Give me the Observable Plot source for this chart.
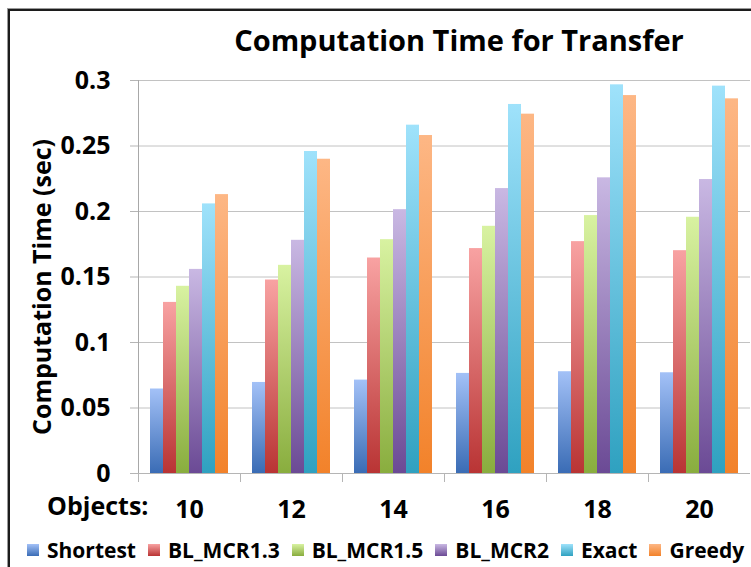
<!DOCTYPE html>
<html>
<head>
<meta charset="utf-8">
<script src="https://cdn.jsdelivr.net/npm/d3@7"></script>
<script src="https://cdn.jsdelivr.net/npm/@observablehq/plot@0.6"></script>
<style>
  html, body { margin: 0; padding: 0; background: #fff; }
  #chart { position: relative; width: 751px; height: 567px; overflow: hidden; font-family: "Open Sans", sans-serif; font-weight: bold; color: #000; }
  #border { position: absolute; left: 8px; top: 9px; width: 800px; height: 600px; border-left: 2px solid #1c1c1c; border-top: 2px solid #1c1c1c; box-shadow: -1px -1px 0 #9a9a9a; }
  #title { position: absolute; left: 0; width: 918px; top: 21px; text-align: center; font-size: 29px; line-height: 38px; }
  #ylabel { position: absolute; left: 41px; top: 287px; transform: translate(-50%, -50%) rotate(-90deg); font-size: 25px; line-height: 30px; white-space: nowrap; }
  #plot { position: absolute; left: 0; top: 0; }
  #legend { position: absolute; left: 27px; top: 535px; display: flex; align-items: center; font-size: 21px; line-height: 30px; white-space: nowrap; }
  #legend .item { display: flex; align-items: center; margin-right: 12px; }
  #legend .sw { width: 12px; height: 12px; margin-right: 8px; }
</style>
</head>
<body>
<div id="chart">
  <div id="border"></div>
  <div id="title">Computation Time for Transfer</div>
  <div id="plot"></div>
  <div id="ylabel">Computation Time (sec)</div>
  <div id="legend"></div>
</div>
<script>
// Number of objects per scenario (one group of bars each)
const objects = [10, 12, 14, 16, 18, 20];

// Methods compared, in drawing order
const series = ["Shortest", "BL_MCR1.3", "BL_MCR1.5", "BL_MCR2", "Exact", "Greedy"];

// Computation time in seconds, one value per object count
const shortest = [0.0645, 0.0695, 0.0713, 0.0764, 0.0777, 0.0769];
const blMcr13  = [0.1306, 0.1477, 0.1645, 0.1717, 0.1770, 0.1701];
const blMcr15  = [0.1429, 0.1589, 0.1785, 0.1887, 0.1969, 0.1956];
const blMcr2   = [0.1558, 0.1780, 0.2014, 0.2175, 0.2257, 0.2244];
const exact    = [0.2058, 0.2458, 0.2659, 0.2817, 0.2967, 0.2957];
const greedy   = [0.2129, 0.2399, 0.2580, 0.2743, 0.2885, 0.2860];

// Y axis tick values
const yTicks = [0, 0.05, 0.1, 0.15, 0.2, 0.25, 0.3];

// Gradient stops (top, bottom) for each method
const gradTop    = ["#a3c1f7", "#f8a2a2", "#d8f2a1", "#c9b8e3", "#9fe2fb", "#fdb785"];
const gradBottom = ["#3a6cb5", "#b93434", "#89ad3e", "#6b4a95", "#2fa1c0", "#f2822a"];

const valuesBySeries = [shortest, blMcr13, blMcr15, blMcr2, exact, greedy];
const rows = [];
series.forEach((s, si) => {
  objects.forEach((o, oi) => rows.push({objects: o, series: s, value: valuesBySeries[si][oi]}));
});

const gradIds = series.map((s, i) => `grad-${i}`);

const plotW = 751, plotH = 530, mTop = 80, mBottom = 57;
const frameH = plotH - mTop - mBottom;

const chart = Plot.plot({
  width: plotW,
  height: plotH,
  marginLeft: 136,
  marginRight: 0,
  marginTop: mTop,
  marginBottom: mBottom,
  style: {fontFamily: "'Open Sans', sans-serif", fontWeight: "bold", color: "#000", background: "transparent", overflow: "visible"},
  fx: {domain: objects, padding: 0, axis: null, label: null},
  x: {domain: series, paddingInner: 0, paddingOuter: 0.77, axis: null},
  y: {domain: [0, 0.3], axis: null},
  color: {domain: series, range: gradIds.map(id => `url(#${id})`)},
  marks: [
    Plot.gridY(yTicks, {stroke: "#c2c2c2", strokeOpacity: 1}),
    Plot.axisY(yTicks, {
      anchor: "left", tickSize: 8, tickPadding: 20, fontSize: 25,
      stroke: "#b5b5b5", fill: "#000", tickFormat: d => String(d), label: null
    }),
    // y axis line in the leftmost group
    Plot.frame({anchor: "left", facetAnchor: "left", stroke: "#a8a8a8", insetBottom: -8}),
    // short separators below the baseline between groups
    Plot.frame({anchor: "left", stroke: "#b5b5b5", insetTop: frameH, insetBottom: -8}),
    Plot.ruleY([0], {stroke: "#b5b5b5"}),
    Plot.barY(rows, {fx: "objects", x: "series", y: "value", fill: "series", inset: 0}),
    Plot.axisFx({anchor: "bottom", tickSize: 0, tickPadding: 27, fontSize: 25, label: null}),
    Plot.text(["Objects:"], {
      frameAnchor: "bottom-left", facetAnchor: "left", textAnchor: "end",
      dx: 10, dy: 41, fontSize: 25, text: d => d
    })
  ]
});

// Vertical gradients used as bar fills
const ns = "http://www.w3.org/2000/svg";
const defs = document.createElementNS(ns, "defs");
gradIds.forEach((id, i) => {
  const g = document.createElementNS(ns, "linearGradient");
  g.setAttribute("id", id);
  g.setAttribute("x1", "0"); g.setAttribute("y1", "0");
  g.setAttribute("x2", "0"); g.setAttribute("y2", "1");
  [[0, gradTop[i]], [1, gradBottom[i]]].forEach(([off, c]) => {
    const st = document.createElementNS(ns, "stop");
    st.setAttribute("offset", off);
    st.setAttribute("stop-color", c);
    g.appendChild(st);
  });
  defs.appendChild(g);
});
chart.insertBefore(defs, chart.firstChild);
document.getElementById("plot").appendChild(chart);

// Legend row
const legend = document.getElementById("legend");
series.forEach((s, i) => {
  const item = document.createElement("div");
  item.className = "item";
  const sw = document.createElement("span");
  sw.className = "sw";
  sw.style.background = `linear-gradient(${gradTop[i]}, ${gradBottom[i]})`;
  const label = document.createElement("span");
  label.textContent = s;
  item.appendChild(sw);
  item.appendChild(label);
  legend.appendChild(item);
});
</script>
</body>
</html>
